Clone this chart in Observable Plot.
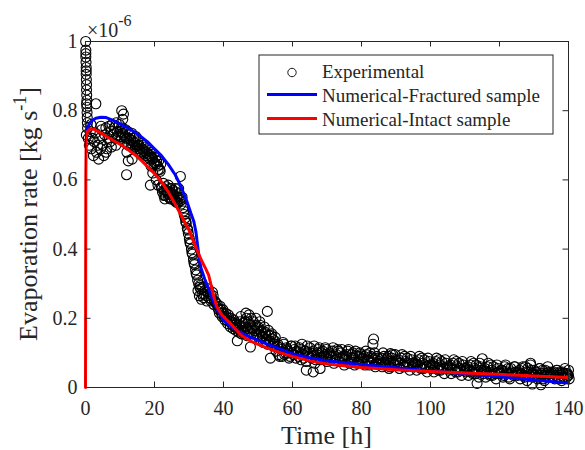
<!DOCTYPE html>
<html>
<head>
<meta charset="utf-8">
<script src="https://cdn.jsdelivr.net/npm/d3@7"></script>
<script src="https://cdn.jsdelivr.net/npm/@observablehq/plot@0.6"></script>
<style>
  html, body { margin: 0; padding: 0; background: #fff; }
  svg { display: block; }
</style>
</head>
<body>
<div id="chart"></div>
<script>
// ---------- data (time [h], evaporation rate [×1e-6 kg/s]) ----------
const xTicks = [0, 20, 40, 60, 80, 100, 120, 140];
const yTicks = [0, 0.2, 0.4, 0.6, 0.8, 1];
const seriesNames = ["Experimental", "Numerical-Fractured sample", "Numerical-Intact sample"];

const experimental = [
  // start-up column near t = 0
  [0.05,1.0],[0.1,0.975],[0.1,0.955],[0.15,0.94],[0.2,0.925],[0.2,0.905],[0.25,0.89],[0.3,0.875],[0.3,0.86],[0.35,0.845],
  [0.4,0.83],[0.4,0.81],[0.45,0.795],[0.5,0.78],[0.55,0.765],[0.6,0.75],[0.1,0.965],[0.2,0.915],[0.3,0.82],[0.25,0.73],
  // 1 - 10 h
  [0.8,0.72],[1.1,0.70],[1.4,0.74],[1.7,0.69],[2.0,0.72],[2.3,0.67],[2.6,0.71],[2.9,0.735],[3.2,0.68],[3.5,0.70],
  [3.8,0.66],[4.1,0.72],[4.4,0.69],[4.7,0.745],[5.0,0.70],[5.3,0.67],[5.6,0.73],[5.9,0.75],[6.2,0.69],[6.5,0.72],
  [6.8,0.755],[7.1,0.71],[7.4,0.74],[7.7,0.76],[8.0,0.73],[8.3,0.75],[8.6,0.72],[8.9,0.765],[9.2,0.74],[9.5,0.73],
  [9.8,0.76],[3.0,0.82],[1.6,0.76],[4.5,0.755],[6.0,0.68],[7.5,0.695],[8.8,0.70],
  // 10 - 22 h
  [10.1,0.74],[10.4,0.72],[10.7,0.75],[11.0,0.73],[11.3,0.71],[11.6,0.745],[11.9,0.72],[12.2,0.74],[12.5,0.70],[12.8,0.73],
  [13.1,0.715],[13.4,0.735],[13.7,0.70],[14.0,0.72],[14.3,0.705],[14.6,0.725],[14.9,0.69],[15.2,0.71],[15.5,0.70],[15.8,0.68],
  [16.1,0.705],[16.4,0.69],[16.7,0.70],[17.0,0.675],[17.3,0.695],[17.6,0.68],[17.9,0.69],[18.2,0.665],[18.5,0.685],[18.8,0.67],
  [19.1,0.68],[19.4,0.66],[19.7,0.675],[20.0,0.65],[20.3,0.665],[20.6,0.655],[20.9,0.64],[21.2,0.655],[21.5,0.63],[21.8,0.645],
  [10.5,0.80],[11.0,0.79],[10.8,0.775],[11.9,0.615],[12.4,0.655],[12.0,0.68],[13.5,0.66],[18.8,0.585],
  [19.5,0.62],[20.5,0.60],[21.0,0.585],[19.0,0.64],
  [10.25,0.725],[10.85,0.735],[11.45,0.725],[12.05,0.705],[12.65,0.72],[13.25,0.70],[13.85,0.71],[14.45,0.695],[15.05,0.70],[15.65,0.69],
  [16.25,0.68],[16.85,0.685],[17.45,0.67],[18.05,0.675],[18.65,0.66],[19.25,0.665],[19.85,0.645],[20.45,0.645],[21.05,0.63],[21.65,0.625],
  // 22 - 28 h
  [22.0,0.58],[22.3,0.565],[22.6,0.59],[22.9,0.57],[23.2,0.555],[23.5,0.58],[23.8,0.565],[24.1,0.55],[24.4,0.575],[24.7,0.56],
  [25.0,0.545],[25.3,0.57],[25.6,0.555],[25.9,0.54],[26.2,0.565],[26.5,0.55],[26.8,0.535],[27.1,0.56],[27.4,0.545],[27.7,0.53],
  [28.0,0.55],[23.0,0.545],[24.0,0.585],[25.0,0.575],[26.0,0.575],[27.0,0.575],[27.5,0.61],
  [22.15,0.575],[22.75,0.555],[23.35,0.57],[23.95,0.56],[24.55,0.545],[25.15,0.56],[25.75,0.545],[26.35,0.535],[26.95,0.55],[27.55,0.54],
  // steep drop 28 - 33 h
  [28.3,0.52],[28.6,0.50],[28.9,0.49],[29.2,0.475],[29.5,0.46],[29.8,0.445],[30.1,0.43],[30.4,0.415],[30.7,0.40],[31.0,0.385],
  [31.3,0.37],[31.6,0.355],[31.9,0.34],[32.2,0.325],[32.5,0.31],[32.8,0.30],[33.1,0.29],
  [28.45,0.51],[29.05,0.48],[29.65,0.455],[30.25,0.42],[30.85,0.39],[31.45,0.36],[32.05,0.33],
  // cluster 32 - 38 h
  [32.6,0.28],[33.0,0.265],[33.4,0.285],[33.8,0.27],[34.2,0.26],[34.6,0.28],[35.0,0.265],[35.4,0.275],[35.8,0.26],[36.2,0.27],
  [36.6,0.255],[37.0,0.265],[37.4,0.25],[37.8,0.245],[33.2,0.295],[34.0,0.29],[35.2,0.25],
  [33.6,0.255],[34.4,0.27],[35.6,0.285],[36.4,0.25],[37.2,0.24],[36.8,0.275],
  // 38 - 55 h
  [38.2,0.24],[38.6,0.225],[39.0,0.235],[39.4,0.215],[39.8,0.225],[40.2,0.205],[40.6,0.215],[41.0,0.195],[41.4,0.21],[41.8,0.19],
  [42.2,0.20],[42.6,0.18],[43.0,0.195],[43.4,0.175],[43.8,0.185],[44.2,0.17],[44.6,0.18],[45.0,0.165],[45.4,0.175],[45.8,0.16],
  [46.2,0.19],[46.6,0.20],[47.0,0.17],[47.4,0.21],[47.8,0.18],[48.2,0.155],[48.6,0.19],[49.0,0.165],[49.4,0.20],[49.8,0.17],
  [50.2,0.15],[50.6,0.18],[51.0,0.16],[51.4,0.145],[51.8,0.175],[52.2,0.155],[52.6,0.14],[53.0,0.165],[53.4,0.135],[53.8,0.15],
  [54.2,0.14],[54.6,0.125],[55.0,0.145],
  [52.7,0.22],[47.8,0.117],[53.6,0.085],[45.0,0.205],[46.5,0.215],[50.5,0.19],[44.0,0.135],
  [38.4,0.23],[38.8,0.215],[39.2,0.225],[39.6,0.205],[40.0,0.215],[40.4,0.195],[40.8,0.205],[41.2,0.185],[41.6,0.2],[42.0,0.175],
  [42.4,0.19],[42.8,0.17],[43.2,0.185],[43.6,0.165],[44.0,0.175],[44.4,0.16],[44.8,0.19],[45.2,0.155],[45.6,0.185],[46.0,0.165],
  [46.4,0.175],[46.8,0.15],[47.2,0.19],[47.6,0.16],[48.0,0.2],[48.4,0.17],[48.8,0.145],[49.2,0.18],[49.6,0.155],[50.0,0.175],
  [50.4,0.14],[50.8,0.165],[51.2,0.15],[51.6,0.13],[52.0,0.16],[52.4,0.14],[52.8,0.125],[53.2,0.15],[53.6,0.13],[54.0,0.155],
  [54.4,0.12],[54.8,0.135],
  // 55 - 140 h
  [55.5,0.12],[56.0,0.095],[56.5,0.115],[57.0,0.09],[57.5,0.125],[58.0,0.10],[58.5,0.11],[59.0,0.085],[59.5,0.12],[60.0,0.10],
  [60.5,0.11],[61.0,0.085],[61.5,0.10],[62.0,0.115],[62.5,0.08],[63.0,0.095],[63.5,0.105],[64.0,0.075],[64.5,0.10],[65.0,0.115],
  [65.5,0.085],[66.0,0.105],[66.5,0.07],[67.0,0.095],[67.5,0.11],[68.0,0.08],[68.5,0.10],[69.0,0.09],[69.5,0.115],[70.0,0.075],
  [70.5,0.095],[71.0,0.08],[71.5,0.105],[72.0,0.07],[72.5,0.09],[73.0,0.11],[73.5,0.075],[74.0,0.10],[74.5,0.085],[75.0,0.065],
  [75.5,0.09],[76.0,0.105],[76.5,0.07],[77.0,0.085],[77.5,0.10],[78.0,0.065],[78.5,0.09],[79.0,0.075],[79.5,0.10],[80.0,0.08],
  [80.5,0.085],[81.0,0.065],[81.5,0.095],[82.0,0.075],[82.5,0.10],[83.0,0.07],[83.5,0.08],[84.0,0.06],[84.5,0.09],[85.0,0.075],
  [83.5,0.14],[83.3,0.125],
  [85.5,0.08],[86.0,0.06],[86.5,0.09],[87.0,0.07],[87.5,0.085],[88.0,0.055],[88.5,0.075],[89.0,0.095],[89.5,0.065],[90.0,0.08],
  [90.5,0.075],[91.0,0.055],[91.5,0.085],[92.0,0.065],[92.5,0.09],[93.0,0.06],[93.5,0.07],[94.0,0.05],[94.5,0.08],[95.0,0.065],
  [95.5,0.07],[96.0,0.05],[96.5,0.08],[97.0,0.06],[97.5,0.085],[98.0,0.055],[98.5,0.065],[99.0,0.045],[99.5,0.075],[100.0,0.06],
  [100.5,0.065],[101.0,0.045],[101.5,0.075],[102.0,0.055],[102.5,0.08],[103.0,0.05],[103.5,0.06],[104.0,0.04],[104.5,0.07],[105.0,0.055],
  [105.5,0.06],[106.0,0.04],[106.5,0.07],[107.0,0.05],[107.5,0.075],[108.0,0.045],[108.5,0.055],[109.0,0.035],[109.5,0.065],[110.0,0.05],
  [110.5,0.055],[111.0,0.035],[111.5,0.065],[112.0,0.045],[112.5,0.07],[113.0,0.04],[113.5,0.05],[114.0,0.03],[114.5,0.06],[115.0,0.045],
  [115.5,0.05],[116.0,0.03],[116.5,0.06],[117.0,0.04],[117.5,0.065],[118.0,0.035],[118.5,0.045],[119.0,0.025],[119.5,0.055],[120.0,0.04],
  [120.5,0.05],[121.0,0.03],[121.5,0.06],[122.0,0.04],[122.5,0.055],[123.0,0.025],[123.5,0.045],[124.0,0.035],[124.5,0.06],[125.0,0.04],
  [125.5,0.045],[126.0,0.025],[126.5,0.055],[127.0,0.035],[127.5,0.06],[128.0,0.02],[128.5,0.045],[129.0,0.065],[129.5,0.03],[130.0,0.05],
  [130.5,0.045],[131.0,0.025],[131.5,0.055],[132.0,0.035],[132.5,0.05],[133.0,0.02],[133.5,0.04],[134.0,0.06],[134.5,0.03],[135.0,0.045],
  [135.5,0.04],[136.0,0.025],[136.5,0.05],[137.0,0.03],[137.5,0.045],[138.0,0.02],[138.5,0.04],[139.0,0.055],[139.5,0.03],[140.0,0.035],
  [64.0,0.05],[66.0,0.045],[68.0,0.055],[113.5,0.012],[115.0,0.083],[129.0,0.07],[129.5,0.01],[132.0,0.008],[88.4,0.098],
  [140.0,0.05],[139.7,0.04],[140.2,0.025],
  // second pass 55 - 140 h
  [55.25,0.105],[55.75,0.125],[56.25,0.09],[56.75,0.11],[57.25,0.13],[57.75,0.095],[58.25,0.115],[58.75,0.105],[59.25,0.09],[59.75,0.12],
  [60.25,0.095],[60.75,0.12],[61.25,0.105],[61.75,0.09],[62.25,0.11],[62.75,0.125],[63.25,0.085],[63.75,0.105],[64.25,0.12],[64.75,0.09],
  [65.25,0.10],[65.75,0.09],[66.25,0.12],[66.75,0.08],[67.25,0.10],[67.75,0.115],[68.25,0.085],[68.75,0.105],[69.25,0.095],[69.75,0.11],
  [70.25,0.085],[70.75,0.10],[71.25,0.09],[71.75,0.115],[72.25,0.08],[72.75,0.095],[73.25,0.105],[73.75,0.085],[74.25,0.11],[74.75,0.09],
  [75.25,0.08],[75.75,0.095],[76.25,0.11],[76.75,0.075],[77.25,0.095],[77.75,0.085],[78.25,0.105],[78.75,0.07],[79.25,0.09],[79.75,0.095],
  [80.25,0.075],[80.75,0.09],[81.25,0.105],[81.75,0.08],[82.25,0.065],[82.75,0.09],[83.25,0.085],[83.75,0.10],[84.25,0.07],[84.75,0.085],
  [85.25,0.07],[85.75,0.085],[86.25,0.10],[86.75,0.065],[87.25,0.08],[87.75,0.09],[88.25,0.06],[88.75,0.085],[89.25,0.075],[89.75,0.095],
  [90.25,0.065],[90.75,0.08],[91.25,0.07],[91.75,0.095],[92.25,0.06],[92.75,0.075],[93.25,0.085],[93.75,0.065],[94.25,0.09],[94.75,0.07],
  [95.25,0.06],[95.75,0.075],[96.25,0.065],[96.75,0.09],[97.25,0.055],[97.75,0.07],[98.25,0.08],[98.75,0.06],[99.25,0.085],[99.75,0.065],
  [100.25,0.055],[100.75,0.07],[101.25,0.06],[101.75,0.085],[102.25,0.05],[102.75,0.065],[103.25,0.075],[103.75,0.055],[104.25,0.08],[104.75,0.06],
  [105.25,0.05],[105.75,0.065],[106.25,0.055],[106.75,0.08],[107.25,0.045],[107.75,0.06],[108.25,0.07],[108.75,0.05],[109.25,0.075],[109.75,0.055],
  [110.25,0.045],[110.75,0.06],[111.25,0.05],[111.75,0.075],[112.25,0.04],[112.75,0.055],[113.25,0.065],[113.75,0.045],[114.25,0.07],[114.75,0.05],
  [115.25,0.04],[115.75,0.055],[116.25,0.045],[116.75,0.07],[117.25,0.035],[117.75,0.05],[118.25,0.06],[118.75,0.04],[119.25,0.065],[119.75,0.045],
  [120.25,0.04],[120.75,0.05],[121.25,0.035],[121.75,0.065],[122.25,0.045],[122.75,0.03],[123.25,0.055],[123.75,0.04],[124.25,0.06],[124.75,0.045],
  [125.25,0.035],[125.75,0.05],[126.25,0.04],[126.75,0.06],[127.25,0.03],[127.75,0.045],[128.25,0.055],[128.75,0.035],[129.25,0.05],[129.75,0.04],
  [130.25,0.035],[130.75,0.045],[131.25,0.03],[131.75,0.055],[132.25,0.04],[132.75,0.025],[133.25,0.05],[133.75,0.035],[134.25,0.045],[134.75,0.04],
  [135.25,0.03],[135.75,0.045],[136.25,0.035],[136.75,0.05],[137.25,0.025],[137.75,0.04],[138.25,0.045],[138.75,0.03],[139.25,0.04],[139.75,0.035]
];

const fractured = [
  [0.3,0.745],[1,0.76],[2,0.772],[3,0.778],[4.5,0.781],[6,0.78],[8,0.772],[10,0.762],[12,0.752],[14,0.74],
  [16,0.726],[18,0.71],[20,0.69],[22,0.67],[24,0.645],[26,0.615],[27.5,0.585],[28.5,0.56],[29.5,0.535],[30.5,0.505],
  [31.4,0.48],[32,0.45],[32.5,0.41],[33,0.37],[33.5,0.345],[34.5,0.315],[35.5,0.29],[37,0.25],[38.5,0.22],[40,0.195],
  [42,0.177],[45,0.158],[48,0.145],[52,0.128],[56,0.113],[60,0.097],[65,0.086],[70,0.077],[80,0.066],[90,0.057],
  [100,0.048],[110,0.04],[120,0.031],[130,0.022],[140,0.013]
];

const intact = [
  [0,0],[0.05,0.35],[0.1,0.62],[0.2,0.72],[0.6,0.74],[1.5,0.748],[2.5,0.746],[4,0.738],[6,0.726],[8,0.714],
  [10,0.703],[12,0.69],[14,0.675],[16,0.658],[18,0.638],[20,0.618],[22,0.595],[24,0.565],[26,0.53],[28,0.492],
  [30,0.455],[32,0.405],[33.5,0.37],[35,0.34],[35.7,0.325],[36.3,0.3],[37,0.27],[38,0.235],[39.5,0.21],[42,0.185],
  [45,0.152],[48,0.133],[52,0.117],[56,0.102],[60,0.09],[65,0.077],[70,0.068],[80,0.058],[90,0.051],[100,0.046],
  [110,0.042],[120,0.038],[130,0.033],[140,0.029]
];

// ---------- chart ----------
const W = 585, H = 450, mL = 85, mR = 17, mT = 41, mB = 63;
const innerW = W - mL - mR, innerH = H - mT - mB, tickLen = 5.5;
const axisColor = "#262626";
const serif = "'Liberation Serif', 'Times New Roman', Times, serif";

const svg = Plot.plot({
  width: W, height: H,
  marginLeft: mL, marginRight: mR, marginTop: mT, marginBottom: mB,
  style: { fontFamily: serif, background: "#fff", color: axisColor, overflow: "visible" },
  x: { domain: [0, 140] },
  y: { domain: [0, 1] },
  marks: [
    Plot.dot(experimental, { x: d => d[0], y: d => d[1], r: 5, stroke: "#000", strokeWidth: 1.1, fill: "none" }),
    Plot.line(fractured, { x: d => d[0], y: d => d[1], stroke: "#0000ff", strokeWidth: 3, curve: "linear" }),
    Plot.line(intact, { x: d => d[0], y: d => d[1], stroke: "#ff0000", strokeWidth: 3, curve: "linear" }),
    Plot.frame({ stroke: axisColor, strokeWidth: 1 }),
    Plot.tickX(xTicks, { x: d => d, stroke: axisColor, insetTop: innerH - tickLen }),
    Plot.tickX(xTicks, { x: d => d, stroke: axisColor, insetBottom: innerH - tickLen }),
    Plot.tickY(yTicks, { y: d => d, stroke: axisColor, insetRight: innerW - tickLen }),
    Plot.tickY(yTicks, { y: d => d, stroke: axisColor, insetLeft: innerW - tickLen }),
    Plot.axisX(xTicks, { tickSize: 0, tickPadding: 13, fontSize: 20, label: null, tickFormat: d => `${d}` }),
    Plot.axisY(yTicks, { tickSize: 0, tickPadding: 8, fontSize: 20, label: null, tickFormat: d => `${d}` })
  ]
});

const s = d3.select(svg);

// exponent label
const expo = s.append("text").attr("x", 87).attr("y", 37).attr("text-anchor", "start")
  .attr("fill", axisColor).attr("font-family", serif).attr("font-size", 20);
expo.append("tspan").text("×10");
expo.append("tspan").attr("dy", -11).attr("font-size", 16).text("-6");

// x axis label
s.append("text").attr("x", mL + innerW / 2).attr("y", 444)
  .attr("text-anchor", "middle").attr("fill", axisColor)
  .attr("font-family", serif).attr("font-size", 26).text("Time [h]");

// y axis label
const yl = s.append("text").attr("transform", `translate(37,${mT + innerH / 2}) rotate(-90)`)
  .attr("text-anchor", "middle").attr("fill", axisColor)
  .attr("font-family", serif).attr("font-size", 26);
yl.append("tspan").text("Evaporation rate [kg s");
yl.append("tspan").attr("dy", -11).attr("font-size", 18).text("-1");
yl.append("tspan").attr("dy", 11).text("]");

// legend
const lg = s.append("g").attr("font-family", serif).attr("font-size", 19)
  .attr("fill", axisColor).attr("text-anchor", "start");
lg.append("rect").attr("x", 259).attr("y", 55).attr("width", 294).attr("height", 79)
  .attr("fill", "#fff").attr("stroke", axisColor).attr("stroke-width", 1);
lg.append("circle").attr("cx", 292).attr("cy", 72.5).attr("r", 4.2)
  .attr("fill", "none").attr("stroke", "#000").attr("stroke-width", 0.9);
lg.append("line").attr("x1", 267).attr("x2", 317).attr("y1", 94.5).attr("y2", 94.5)
  .attr("stroke", "#0000ff").attr("stroke-width", 3);
lg.append("line").attr("x1", 267).attr("x2", 317).attr("y1", 118.5).attr("y2", 118.5)
  .attr("stroke", "#ff0000").attr("stroke-width", 3);
[78, 101.5, 125.5].forEach((y, i) => {
  lg.append("text").attr("x", 322).attr("y", y).attr("text-anchor", "start").text(seriesNames[i]);
});

document.getElementById("chart").appendChild(svg);
</script>
</body>
</html>
